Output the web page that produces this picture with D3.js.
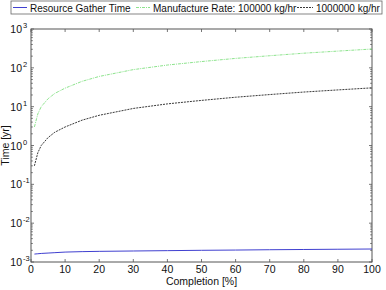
<!DOCTYPE html>
<html>
<head>
<meta charset="utf-8">
<script src="https://cdn.jsdelivr.net/npm/d3@7"></script>
<style>
  body { margin: 0; background: #fff; }
  text { font-family: "Liberation Sans", Arial, sans-serif; fill: #111; }
</style>
</head>
<body>
<div id="chart"></div>
<script>
// Dữ liệu
const completion = [1, 2, 3, 5, 7, 10, 15, 20, 30, 40, 50, 60, 70, 80, 90, 100];
const gatherTime = [0.0016, 0.00163, 0.00166, 0.0017, 0.00174, 0.0018, 0.00185, 0.00188, 0.00192, 0.00196, 0.002, 0.00203, 0.00207, 0.0021, 0.00213, 0.00216];
const rate1e5 = [3, 6.5, 10, 16, 22, 30, 45, 60, 90, 118, 145, 175, 205, 238, 270, 305];
const rate1e6 = [0.3, 0.65, 1, 1.6, 2.2, 3, 4.5, 6, 9, 11.8, 14.5, 17.5, 20.5, 23.8, 27, 30.5];
const xTicks = [0, 10, 20, 30, 40, 50, 60, 70, 80, 90, 100];
const yExps = [-3, -2, -1, 0, 1, 2, 3];
const legendNames = ["Resource Gather Time", "Manufacture Rate: 100000 kg/hr", "1000000 kg/hr"];

const width = 386, height = 290;
const margin = { top: 29, right: 14, bottom: 28, left: 31 };

const svg = d3.select("#chart").append("svg")
    .attr("width", width)
    .attr("height", height);

const x = d3.scaleLinear().domain([0, 100]).range([margin.left, width - margin.right]);
const y = d3.scaleLog().domain([1e-3, 1e3]).range([height - margin.bottom, margin.top]);

// Khung trục
svg.append("rect")
    .attr("x", margin.left).attr("y", margin.top)
    .attr("width", width - margin.left - margin.right)
    .attr("height", height - margin.top - margin.bottom)
    .attr("fill", "none").attr("stroke", "#555").attr("stroke-width", 1);

// Vạch chia trục X (hướng vào trong, trên và dưới)
const tickGroup = svg.append("g").attr("stroke", "#555").attr("stroke-width", 0.8);
xTicks.forEach(t => {
    tickGroup.append("line").attr("x1", x(t)).attr("x2", x(t))
        .attr("y1", y(1e-3)).attr("y2", y(1e-3) - 3);
    tickGroup.append("line").attr("x1", x(t)).attr("x2", x(t))
        .attr("y1", y(1e3)).attr("y2", y(1e3) + 3);
});

// Vạch chia trục Y log (chính + phụ)
yExps.forEach(e => {
    for (let m = 1; m <= 9; m++) {
        const v = m * Math.pow(10, e);
        if (v > 1e3) break;
        const len = m === 1 ? 3 : 1.8;
        tickGroup.append("line").attr("x1", x(0)).attr("x2", x(0) + len)
            .attr("y1", y(v)).attr("y2", y(v));
        tickGroup.append("line").attr("x1", x(100)).attr("x2", x(100) - len)
            .attr("y1", y(v)).attr("y2", y(v));
    }
});

// Nhãn trục X
svg.append("g").selectAll("text")
    .data(xTicks).enter().append("text")
    .attr("x", d => x(d))
    .attr("y", height - margin.bottom + 11)
    .attr("text-anchor", "middle")
    .style("font-size", "10.5px")
    .text(d => d);

// Nhãn trục Y: 10^n
const yl = svg.append("g").selectAll("text")
    .data(yExps).enter().append("text")
    .attr("x", 22)
    .attr("y", d => y(Math.pow(10, d)) + 4)
    .attr("text-anchor", "end")
    .style("font-size", "10.5px");
yl.append("tspan").text("10");
yl.append("tspan")
    .attr("x", 23)
    .attr("dy", -5)
    .attr("text-anchor", "start")
    .style("font-size", "7.5px")
    .text(d => d);

// Tên trục
svg.append("text")
    .attr("x", x(50)).attr("y", 285)
    .attr("text-anchor", "middle")
    .style("font-size", "10.5px")
    .text("Completion [%]");

svg.append("text")
    .attr("transform", `translate(9,${(margin.top + height - margin.bottom) / 2}) rotate(-90)`)
    .attr("text-anchor", "middle")
    .style("font-size", "10.5px")
    .text("Time [yr]");

// Các đường dữ liệu
const line = vals => d3.line()
    .x((d, i) => x(completion[i]))
    .y(d => y(d))(vals);

const series = [
    { vals: gatherTime, color: "#4040d0", dash: null, w: 1 },
    { vals: rate1e5, color: "#80e080", dash: "3,1,1,1", w: 0.9 },
    { vals: rate1e6, color: "#222", dash: "2,1", w: 0.9 }
];

series.forEach(s => {
    svg.append("path")
        .attr("d", line(s.vals))
        .attr("fill", "none")
        .attr("stroke", s.color)
        .attr("stroke-width", s.w)
        .attr("stroke-dasharray", s.dash);
});

// Chú thích (Legend)
svg.append("rect")
    .attr("x", 11).attr("y", 1).attr("width", 371).attr("height", 13)
    .attr("fill", "#fff").attr("stroke", "#666").attr("stroke-width", 0.8);

const legendPos = [{ l: 13, t: 30 }, { l: 136, t: 153 }, { l: 297, t: 316 }];
legendNames.forEach((name, i) => {
    const p = legendPos[i];
    svg.append("line")
        .attr("x1", p.l).attr("x2", p.t - 3)
        .attr("y1", 7.5).attr("y2", 7.5)
        .attr("stroke", series[i].color)
        .attr("stroke-width", series[i].w)
        .attr("stroke-dasharray", series[i].dash);
    svg.append("text")
        .attr("x", p.t).attr("y", 11.5)
        .style("font-size", "10px")
        .text(name);
});
</script>
</body>
</html>
